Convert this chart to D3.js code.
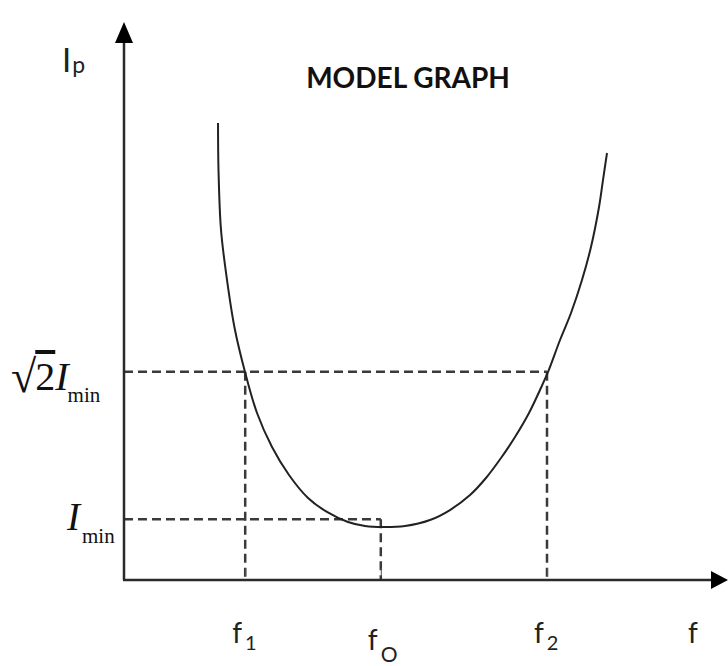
<!DOCTYPE html>
<html>
<head>
<meta charset="utf-8">
<script src="https://cdn.jsdelivr.net/npm/d3@7"></script>
<style>
  body { margin: 0; background: #fff; }
  svg { display: block; }
</style>
</head>
<body>
<div id="chart"></div>
<script>
// resonance curve, arbitrary units
const curveF  = [15.67, 15.75, 16.17, 17.17, 18.5, 20.17, 22.17, 24.67, 27.5, 30.67, 33.83, 37.33, 40.17, 43.17, 46.83, 51.0, 54.33, 57.67, 60.33, 62.83, 65.17, 67.5, 69.33, 70.67, 72.67, 74.5, 76.33, 77.83, 79.17, 79.83, 80.5];
const curveIp = [81.9,  73.48, 62.72, 53.76, 44.8, 37.28, 29.93, 23.84, 18.82, 14.7, 12.19, 10.39, 9.68,  9.5,   9.68,  10.75, 12.54, 15.23, 18.28, 21.86, 25.63, 29.93, 34.05, 37.28, 43.01, 47.85, 53.76, 59.68, 66.85, 71.68, 76.52];

// marked frequencies on the f axis
const markF    = [20.2, 42.8, 70.5];
const markSubs = ["1", "O", "2"];

// marked current levels
const sqrt2Imin = 37.3;
const Imin      = 10.9;

const width = 728, height = 666;
let axisColor = '#2a2a2a',
    dashColor = '#3a3a3a';

const svg = d3.select('#chart').append('svg')
    .attr('width', width)
    .attr('height', height);

const x = d3.scaleLinear().domain([0, 100]).range([124, 724]);
const y = d3.scaleLinear().domain([0, 100]).range([580, 22]);

// dashed guide lines
const guides = [
  [[0, sqrt2Imin], [markF[2], sqrt2Imin]],
  [[markF[0], sqrt2Imin], [markF[0], 0]],
  [[markF[2], sqrt2Imin], [markF[2], 0]],
  [[0, Imin], [markF[1], Imin]],
  [[markF[1], Imin], [markF[1], 0]]
];
svg.append('g').selectAll('line')
    .data(guides)
    .enter().append('line')
    .attr('x1', d => x(d[0][0]))
    .attr('y1', d => y(d[0][1]))
    .attr('x2', d => x(d[1][0]))
    .attr('y2', d => y(d[1][1]))
    .attr('stroke', dashColor)
    .attr('stroke-width', 2.5)
    .attr('stroke-dasharray', '9,5');

// the curve
const line = d3.line()
    .x((d, i) => x(curveF[i]))
    .y((d, i) => y(curveIp[i]))
    .curve(d3.curveCatmullRom.alpha(0.5));

svg.append('path')
    .datum(curveF)
    .attr('d', line)
    .attr('fill', 'none')
    .attr('stroke', '#222')
    .attr('stroke-width', 2);

// axes
svg.append('line')
    .attr('x1', x(0)).attr('y1', y(0))
    .attr('x2', x(0)).attr('y2', y(100) + 18)
    .attr('stroke', axisColor).attr('stroke-width', 2.5);
svg.append('line')
    .attr('x1', x(0) - 1).attr('y1', y(0))
    .attr('x2', width - 14).attr('y2', y(0))
    .attr('stroke', axisColor).attr('stroke-width', 2.5);

// arrow heads
svg.append('path')
    .attr('d', `M${x(0)},${y(100)} L${x(0) - 9},${y(100) + 21} L${x(0) + 9},${y(100) + 21} Z`)
    .attr('fill', '#000');
svg.append('path')
    .attr('d', `M${width},${y(0)} L${width - 17},${y(0) - 9} L${width - 17},${y(0) + 9} Z`)
    .attr('fill', '#000');

// small ticks at f1, f0, f2
const xAxis = svg.append('g')
    .attr('transform', `translate(0,${y(0) - 4})`)
    .call(d3.axisTop(x).tickValues(markF).tickSize(8).tickFormat(''));
xAxis.select('.domain').remove();
xAxis.selectAll('.tick line').attr('stroke', '#555').attr('stroke-width', 1);

// labels
const sans = 'Lato, "Open Sans", sans-serif';
const serif = '"Liberation Serif", "DejaVu Serif", serif';

svg.append('text')
    .attr('x', 408).attr('y', 88)
    .attr('text-anchor', 'middle')
    .attr('font-family', sans)
    .attr('font-weight', 'bold')
    .attr('font-size', 28)
    .attr('fill', '#111')
    .text('MODEL GRAPH');

const ip = svg.append('text')
    .attr('x', 62).attr('y', 72)
    .attr('font-family', sans)
    .attr('fill', '#222');
ip.append('tspan').attr('font-size', 33).text('I');
ip.append('tspan').attr('font-size', 23).attr('dx', 1).attr('dy', 1).text('p');

// sqrt(2) Imin
const s2 = svg.append('text')
    .attr('x', 11).attr('y', 390)
    .attr('font-family', serif)
    .attr('fill', '#111');
s2.append('tspan').attr('font-size', 46).attr('dy', 2).text('√');
s2.append('tspan').attr('font-size', 40).attr('dy', -2).attr('dx', -1).style('text-decoration', 'overline').text('2');
s2.append('tspan').attr('font-size', 40).attr('font-style', 'italic').text('I');
s2.append('tspan').attr('font-size', 21).attr('dy', 12).attr('dx', -1).text('min');

const im = svg.append('text')
    .attr('x', 67).attr('y', 530)
    .attr('font-family', serif)
    .attr('fill', '#111');
im.append('tspan').attr('font-size', 39).attr('font-style', 'italic').text('I');
im.append('tspan').attr('font-size', 21).attr('dy', 13).attr('dx', 2).text('min');

// f labels under the axis
const fl = svg.append('g').selectAll('text')
    .data(markF)
    .enter().append('text')
    .attr('x', d => x(d) - 13)
    .attr('y', (d, i) => i == 1 ? 650 : 643)
    .attr('font-family', sans)
    .attr('fill', '#222');
fl.append('tspan').attr('font-size', 28).text('f');
fl.append('tspan')
    .attr('font-size', (d, i) => i == 1 ? 21 : 20)
    .attr('dx', 3)
    .attr('dy', (d, i) => i == 1 ? 12 : 7)
    .text((d, i) => markSubs[i]);

svg.append('text')
    .attr('x', 688).attr('y', 643)
    .attr('font-family', sans)
    .attr('font-size', 28)
    .attr('fill', '#222')
    .text('f');
</script>
</body>
</html>
